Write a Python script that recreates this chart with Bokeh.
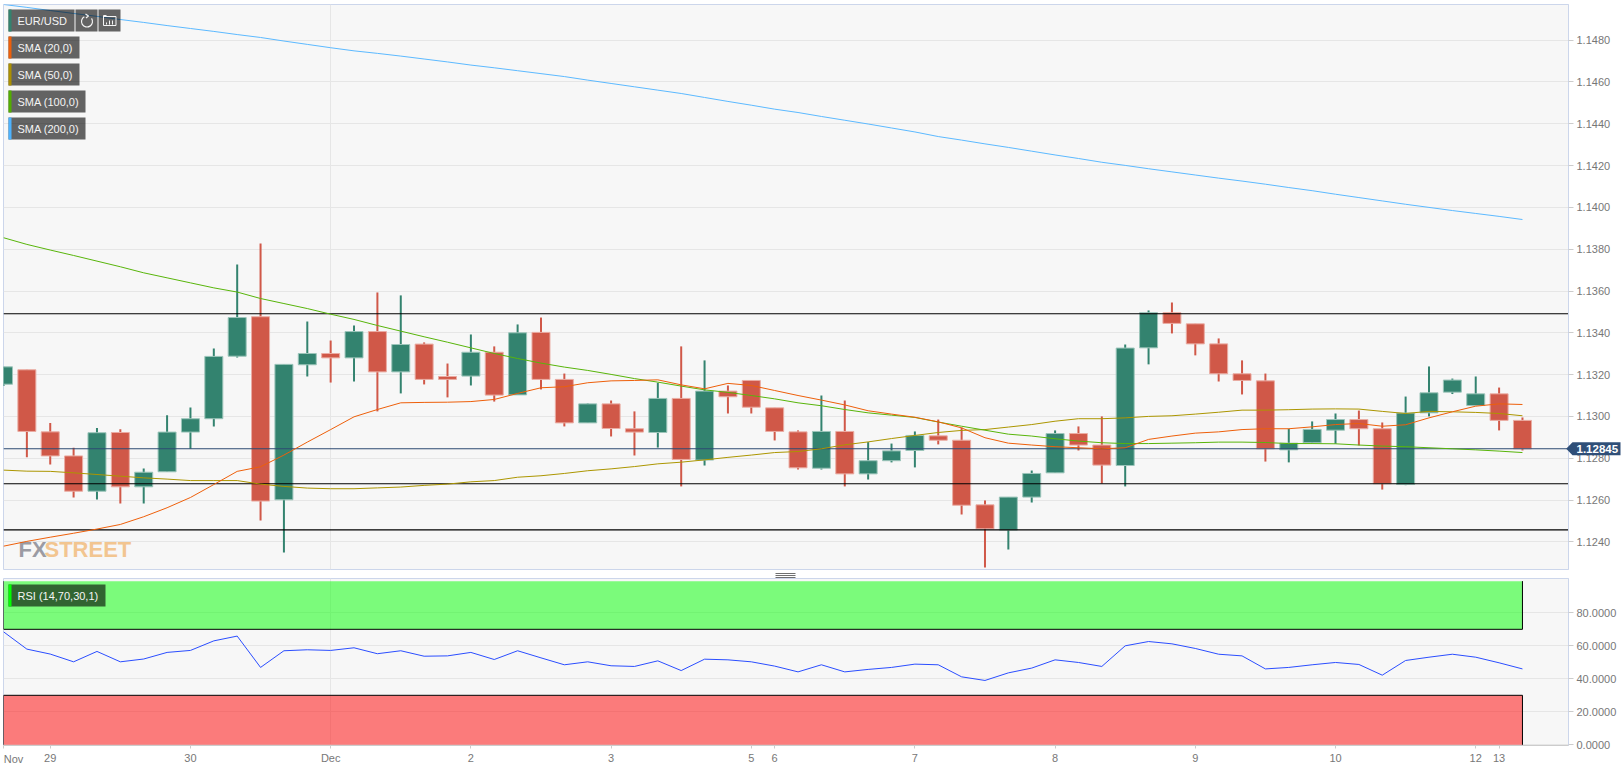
from bokeh.plotting import figure
from bokeh.layouts import column
from bokeh.core.properties import value
from bokeh.models import (ColumnDataSource, FixedTicker, NumeralTickFormatter, Range1d, Label)
from bokeh.embed import file_html
from bokeh.resources import INLINE

# ---------- data ----------
opens = [1.13154,1.13223,1.12926,1.12811,1.12642,1.12923,1.12663,1.12735,1.12925,1.12989,1.13288,1.13477,1.12601,1.13247,1.13301,1.13280,1.13406,1.13213,
1.13346,1.13191,1.13193,1.13307,1.13103,1.13402,1.13177,1.12969,1.13060,1.12941,1.12923,1.13086,1.12791,1.13121,1.13172,1.13041,1.12926,1.12752,
1.12928,1.12725,1.12788,1.12837,1.12907,1.12886,1.12577,1.12456,1.12614,1.12730,1.12918,1.12863,1.12765,1.13328,1.13496,1.13443,1.13347,1.13204,
1.13170,1.12840,1.12874,1.12934,1.12985,1.12941,1.12674,1.13017,1.13116,1.13052,1.13108,1.12981]
closes = [1.13237,1.12928,1.12811,1.12642,1.12922,1.12663,1.12733,1.12925,1.12989,1.13287,1.13473,1.12595,1.13249,1.13301,1.13280,1.13406,1.13213,1.13344,
1.13177,1.13177,1.13307,1.13102,1.13400,1.13177,1.12969,1.13060,1.12942,1.12925,1.13086,1.12794,1.13121,1.13094,1.13044,1.12928,1.12754,1.12928,
1.12725,1.12788,1.12835,1.12909,1.12886,1.12575,1.12462,1.12614,1.12727,1.12918,1.12863,1.12767,1.13327,1.13496,1.13445,1.13347,1.13204,1.13172,
1.12845,1.12872,1.12938,1.12985,1.12941,1.12678,1.13016,1.13113,1.13174,1.13108,1.12981,1.12845]
highs = [1.13237,1.13223,1.12969,1.12850,1.12945,1.12938,1.12751,1.13005,1.13043,1.13325,1.13727,1.13827,1.13249,1.13454,1.13363,1.13435,1.13593,1.13579,
1.13354,1.13253,1.13392,1.13335,1.13440,1.13473,1.13205,1.13062,1.13076,1.13024,1.13161,1.13335,1.13268,1.13148,1.13172,1.13041,1.12933,1.13100,
1.13076,1.12877,1.12870,1.12928,1.12985,1.12947,1.12598,1.12614,1.12741,1.12933,1.12952,1.13000,1.13344,1.13507,1.13545,1.13443,1.13373,1.13268,
1.13205,1.12941,1.12976,1.13014,1.13028,1.12971,1.13095,1.13239,1.13181,1.13191,1.13138,1.12995]
lows = [1.13145,1.12804,1.12770,1.12612,1.12603,1.12583,1.12583,1.12735,1.12845,1.12952,1.13282,1.12502,1.12349,1.13191,1.13162,1.13167,1.13024,1.13110,
1.13153,1.13091,1.13148,1.13071,1.13103,1.13129,1.12952,1.12969,1.12904,1.12813,1.12851,1.12665,1.12765,1.13014,1.13014,1.12885,1.12746,1.12746,
1.12665,1.12698,1.12780,1.12756,1.12866,1.12531,1.12277,1.12363,1.12588,1.12730,1.12837,1.12679,1.12665,1.13249,1.13397,1.13292,1.13167,1.13105,
1.12784,1.12780,1.12870,1.12869,1.12861,1.12650,1.12671,1.13000,1.13107,1.13052,1.12933,1.12837]
sma20 = [1.12379,1.12402,1.12422,1.12441,1.12461,1.12483,1.12520,1.12563,1.12612,1.12674,1.12737,1.12759,1.12815,1.12877,1.12937,1.12998,1.13033,1.13065,
1.13067,1.13068,1.13071,1.13081,1.13110,1.13137,1.13142,1.13161,1.13170,1.13172,1.13175,1.13151,1.13132,1.13158,1.13148,1.13124,1.13100,1.13078,
1.13055,1.13027,1.13011,1.12996,1.12974,1.12945,1.12898,1.12872,1.12863,1.12855,1.12850,1.12845,1.12850,1.12890,1.12906,1.12920,1.12926,1.12937,
1.12941,1.12941,1.12950,1.12961,1.12966,1.12953,1.12960,1.12993,1.13022,1.13049,1.13060,1.13057]
sma50 = [1.12743,1.12738,1.12737,1.12730,1.12722,1.12714,1.12706,1.12700,1.12693,1.12693,1.12693,1.12676,1.12665,1.12657,1.12654,1.12654,1.12658,1.12662,
1.12670,1.12676,1.12687,1.12693,1.12709,1.12716,1.12727,1.12740,1.12749,1.12760,1.12773,1.12781,1.12792,1.12804,1.12815,1.12827,1.12832,1.12845,
1.12864,1.12878,1.12894,1.12909,1.12923,1.12933,1.12937,1.12949,1.12961,1.12977,1.12989,1.12989,1.12993,1.13000,1.13003,1.13011,1.13020,1.13030,
1.13030,1.13032,1.13035,1.13036,1.13035,1.13024,1.13014,1.13024,1.13022,1.13019,1.13014,1.13003]
sma100 = [1.13855,1.13823,1.13796,1.13770,1.13743,1.13716,1.13687,1.13663,1.13639,1.13615,1.13595,1.13564,1.13540,1.13516,1.13489,1.13464,1.13435,1.13408,
1.13381,1.13355,1.13328,1.13301,1.13277,1.13255,1.13236,1.13220,1.13201,1.13181,1.13164,1.13145,1.13127,1.13115,1.13100,1.13084,1.13065,1.13051,
1.13033,1.13017,1.13006,1.12995,1.12973,1.12953,1.12934,1.12915,1.12906,1.12893,1.12882,1.12874,1.12870,1.12870,1.12872,1.12874,1.12877,1.12877,
1.12875,1.12870,1.12870,1.12869,1.12863,1.12858,1.12855,1.12850,1.12845,1.12840,1.12834,1.12827]
sma200 = [1.14971,1.14957,1.14942,1.14928,1.14914,1.14899,1.14885,1.14870,1.14856,1.14842,1.14827,1.14813,1.14796,1.14780,1.14764,1.14749,1.14737,1.14724,
1.14710,1.14696,1.14681,1.14668,1.14654,1.14640,1.14626,1.14609,1.14593,1.14577,1.14561,1.14545,1.14526,1.14507,1.14489,1.14470,1.14454,1.14435,
1.14417,1.14399,1.14380,1.14361,1.14339,1.14322,1.14304,1.14287,1.14269,1.14251,1.14234,1.14216,1.14201,1.14185,1.14170,1.14155,1.14140,1.14126,
1.14111,1.14095,1.14080,1.14063,1.14047,1.14031,1.14015,1.14000,1.13985,1.13971,1.13957,1.13942]
rsi = [68.5,58,55,50.3,56.6,50.3,52,56,57.2,63,65.9,46.9,57,57.6,57.2,58.8,55.2,57,53.7,53.9,56,51.7,57,52.7,48.5,50.3,47.9,47.5,50.9,45,51.9,51.5,50.3,47.7,44.2,48.5,44.2,45.7,
46.9,48.9,48.5,41.2,39,43.6,46.5,51.5,49.9,47.5,60,62.6,61.2,58.4,54.9,53.9,46,46.9,48.5,49.9,48.7,42.2,51.1,53.1,54.9,53.1,49.7,46]
assert all(len(a) == 66 for a in (opens, closes, highs, lows, sma20, sma50, sma100, sma200, rsi))

level_lines = [1.13491, 1.12678, 1.12457]
last_price = 1.12845
price_ticks = [1.1240, 1.1260, 1.1280, 1.1300, 1.1320, 1.1340, 1.1360, 1.1380, 1.1400, 1.1420, 1.1440, 1.1460, 1.1480]
rsi_ticks = [0, 20, 40, 60, 80]
date_ticks = [0, 2, 8, 14, 20, 26, 32, 33, 39, 45, 51, 57, 63, 64]
date_labels = ["", "29", "30", "Dec", "2", "3", "5", "6", "7", "8", "9", "10", "12", "13"]
legend_names = ["SMA (20,0)", "SMA (50,0)", "SMA (100,0)", "SMA (200,0)"]

# ---------- styles ----------
FONT = "Liberation Sans"
UP, DOWN = "#33836f", "#d05848"
UP_EDGE, DOWN_EDGE = "#9cc5ba", "#eaaca3"
C20, C50, C100, C200 = "#ee5f0a", "#ac9600", "#58b50a", "#5cb9ff"
AXIS = "#ccd6eb"

n = len(opens)
XMAX = 66.97
TOP, BOT = 1.149708, 1.122675
x_range = Range1d(0, XMAX)

idx = list(range(n))
up = [c >= o for o, c in zip(opens, closes)]
src = ColumnDataSource(dict(
    x=idx, top=[max(o, c) for o, c in zip(opens, closes)], bottom=[min(o, c) for o, c in zip(opens, closes)],
    high=highs, low=lows,
    fill=[UP if u else DOWN for u in up], edge=[UP_EDGE if u else DOWN_EDGE for u in up],
))

def style(fig):
    fig.background_fill_color = "#f7f7f7"
    fig.border_fill_color = "#ffffff"
    fig.outline_line_color = AXIS
    fig.outline_line_width = 1
    fig.min_border_left = 3
    fig.min_border_right = 54
    fig.ygrid.grid_line_color = "#e6e6e6"
    fig.xgrid.grid_line_color = "#e6e6e6"
    fig.xgrid.ticker = FixedTicker(ticks=[14])
    ax = fig.yaxis[0]
    ax.axis_line_color = AXIS
    ax.major_tick_line_color = "#cccccc"
    ax.major_tick_in = 0
    ax.major_tick_out = 5
    ax.minor_tick_line_color = None
    ax.major_label_text_font = FONT
    ax.major_label_text_font_size = "11px"
    ax.major_label_text_color = "#777777"
    ax.major_label_standoff = 3

p = figure(width=1622, height=575, x_range=x_range, y_range=Range1d(BOT, TOP),
           y_axis_location="right", toolbar_location=None, output_backend="svg")
style(p)
p.min_border_top = 4
p.min_border_bottom = 6
p.xaxis.visible = False
p.yaxis[0].ticker = FixedTicker(ticks=price_ticks)
p.yaxis[0].formatter = NumeralTickFormatter(format="0.0000")

p.segment("x", "high", "x", "low", source=src, line_color="fill", line_width=2)
p.vbar("x", 0.77, "bottom", "top", source=src, fill_color="fill", line_color="edge", line_width=1)

for lv in level_lines:
    p.line([0, XMAX], [lv, lv], line_color="#000000", line_width=1.1)
p.line([0, XMAX], [last_price, last_price], line_color="#2c4a72", line_width=1.1)

p.line(idx, sma50, line_color=C50, line_width=1)
p.line(idx, sma100, line_color=C100, line_width=1)
p.line(idx, sma20, line_color=C20, line_width=1)
p.line(idx, sma200, line_color=C200, line_width=1)

# helpers: chrome placed by page pixel, converted through the chart's own scales
def X(px):
    return (px - 3) / 1565 * XMAX
def Y(py):
    return TOP - (py - 4) / 565 * (TOP - BOT)

def badge(fig, xf, yf, x0, x1, y0, y1, strip=None):
    fig.quad(left=[xf(x0)], right=[xf(x1)], bottom=[yf(y1)], top=[yf(y0)], fill_color="#000000",
             fill_alpha=0.6, line_color=None)
    if strip:
        fig.quad(left=[xf(x0)], right=[xf(x0 + 3)], bottom=[yf(y1)], top=[yf(y0)], fill_color=strip, line_color=None)

def badge_text(fig, xf, yf, x0, yc, text):
    fig.add_layout(Label(x=xf(x0), y=yf(yc), text=text, text_font=FONT, text_font_size="11px",
                         text_color="#f4f4f4", text_baseline="middle", text_align="left"))

badge(p, X, Y, 8, 74, 9, 31, UP)
badge_text(p, X, Y, 17, 20.5, "EUR/USD")
badge(p, X, Y, 75, 97, 9, 31)
badge(p, X, Y, 98, 120, 9, 31)
# refresh icon
p.arc(x=[X(86.5)], y=[Y(21)], radius=5.5, radius_units="screen", start_angle=-4.2, end_angle=0.6,
      line_color="#f4f4f4", line_width=1.2, direction="anticlock")
p.line([X(85), X(88), X(85.5)], [Y(13.5), Y(15.5), Y(17.5)], line_color="#f4f4f4", line_width=1.2)
# history icon
p.line([X(103), X(115.5), X(115.5), X(103), X(103), X(106)],
       [Y(16), Y(16), Y(25), Y(25), Y(15), Y(15)], line_color="#f4f4f4", line_width=1)
for bx, by in zip((106, 109, 112), (22, 20, 20)):
    p.line([X(bx), X(bx)], [Y(by), Y(24)], line_color="#f4f4f4", line_width=1)

for name, col, y0, x1 in zip(legend_names, (C20, "#ac9000", "#52ad00", "#4db3ff"), (36, 63, 90, 117), (79, 79, 85, 85)):
    badge(p, X, Y, 8, x1, y0, y0 + 22, col)
    badge_text(p, X, Y, 17, y0 + 11, name)

# watermark
p.add_layout(Label(x=X(18), y=Y(549), text="FX", text_font=FONT, text_font_style="bold",
                   text_font_size="22px", text_color="#9b9ba3", text_baseline="alphabetic", text_align="left", level="underlay"))
p.add_layout(Label(x=X(44), y=Y(549), text="STREET", text_font=FONT, text_font_style="bold",
                   text_font_size="22px", text_color="#f2c590", text_baseline="alphabetic", text_align="left", level="underlay"))

# ---------- RSI ----------
RT, RB = 100.8, -0.42
p2 = figure(width=1622, height=191, x_range=x_range, y_range=Range1d(RB, RT),
            y_axis_location="right", toolbar_location=None, output_backend="svg")
style(p2)
p2.min_border_top = 3
p2.min_border_bottom = 21
p2.yaxis[0].ticker = FixedTicker(ticks=rsi_ticks)
p2.yaxis[0].formatter = NumeralTickFormatter(format="0.0000")
p2.ygrid.ticker = FixedTicker(ticks=rsi_ticks)
xa = p2.xaxis[0]
xa.ticker = FixedTicker(ticks=date_ticks)
xa.major_label_overrides = {t: s for t, s in zip(date_ticks, date_labels)}
xa.axis_line_color = "#cccccc"
xa.major_tick_line_color = "#cccccc"
xa.major_tick_in = 0
xa.major_tick_out = 3
xa.minor_tick_line_color = None
xa.major_label_text_font = FONT
xa.major_label_text_font_size = "11px"
xa.major_label_text_color = "#777777"
xa.major_label_standoff = 3

last = idx[-1]
p2.quad(left=[0], right=[last], bottom=[70], top=[99.2], fill_color="#00ff00", fill_alpha=0.5, line_color=None)
p2.quad(left=[0], right=[last], bottom=[0], top=[30], fill_color="#ff0000", fill_alpha=0.5, line_color=None)
p2.line([0, 0, last, last], [99.2, 70, 70, 99.2], line_color="#000000", line_width=1)
p2.line([0, 0, last, last], [0, 30, 30, 0], line_color="#000000", line_width=1)
p2.line(idx, rsi, line_color="#2a4dff", line_width=1)

def Y2(py):
    return RT - (py - 578) / 167 * (RT - RB)

badge(p2, X, Y2, 8, 105, 584, 606, "#00ff00")
badge_text(p2, X, Y2, 17, 595, "RSI (14,70,30,1)")

# ---------- transparent sheet over both panes, for what lies outside their frames ----------
sheet = figure(width=1622, height=766, x_range=Range1d(0, 1622), y_range=Range1d(766, 0),
               x_axis_type=None, y_axis_type=None, toolbar_location=None, output_backend="svg",
               min_border=0, margin=(-766, 0, 0, 0), frame_align=False)
sheet.grid.visible = False
sheet.background_fill_color = None
sheet.border_fill_color = None
sheet.outline_line_color = None

tag_y = 4 + (TOP - last_price) / (TOP - BOT) * 565
sheet.patch([1565.7, 1572, 1620, 1620, 1572], [tag_y, tag_y - 6.5, tag_y - 6.5, tag_y + 6.5, tag_y + 6.5],
            fill_color="#2f4f78", line_color=None)
sheet.text([1576], [tag_y], text=["1.12845"], text_font=value(FONT), text_font_style="bold", text_font_size=value("11.5px"),
           text_color="#ffffff", text_baseline="middle", text_align="left")
sheet.text([3.3], [758], text=["Nov"], text_font=value(FONT), text_font_size=value("11px"), text_color="#777777",
           text_baseline="middle", text_align="left")
sheet.segment([775, 775, 775], [573, 575, 577], [795, 795, 795], [573, 575, 577], line_color="#6f6f6f", line_width=1)

page = column(p, p2, sheet, spacing=0)
open("out.html", "w").write(file_html(page, INLINE))
